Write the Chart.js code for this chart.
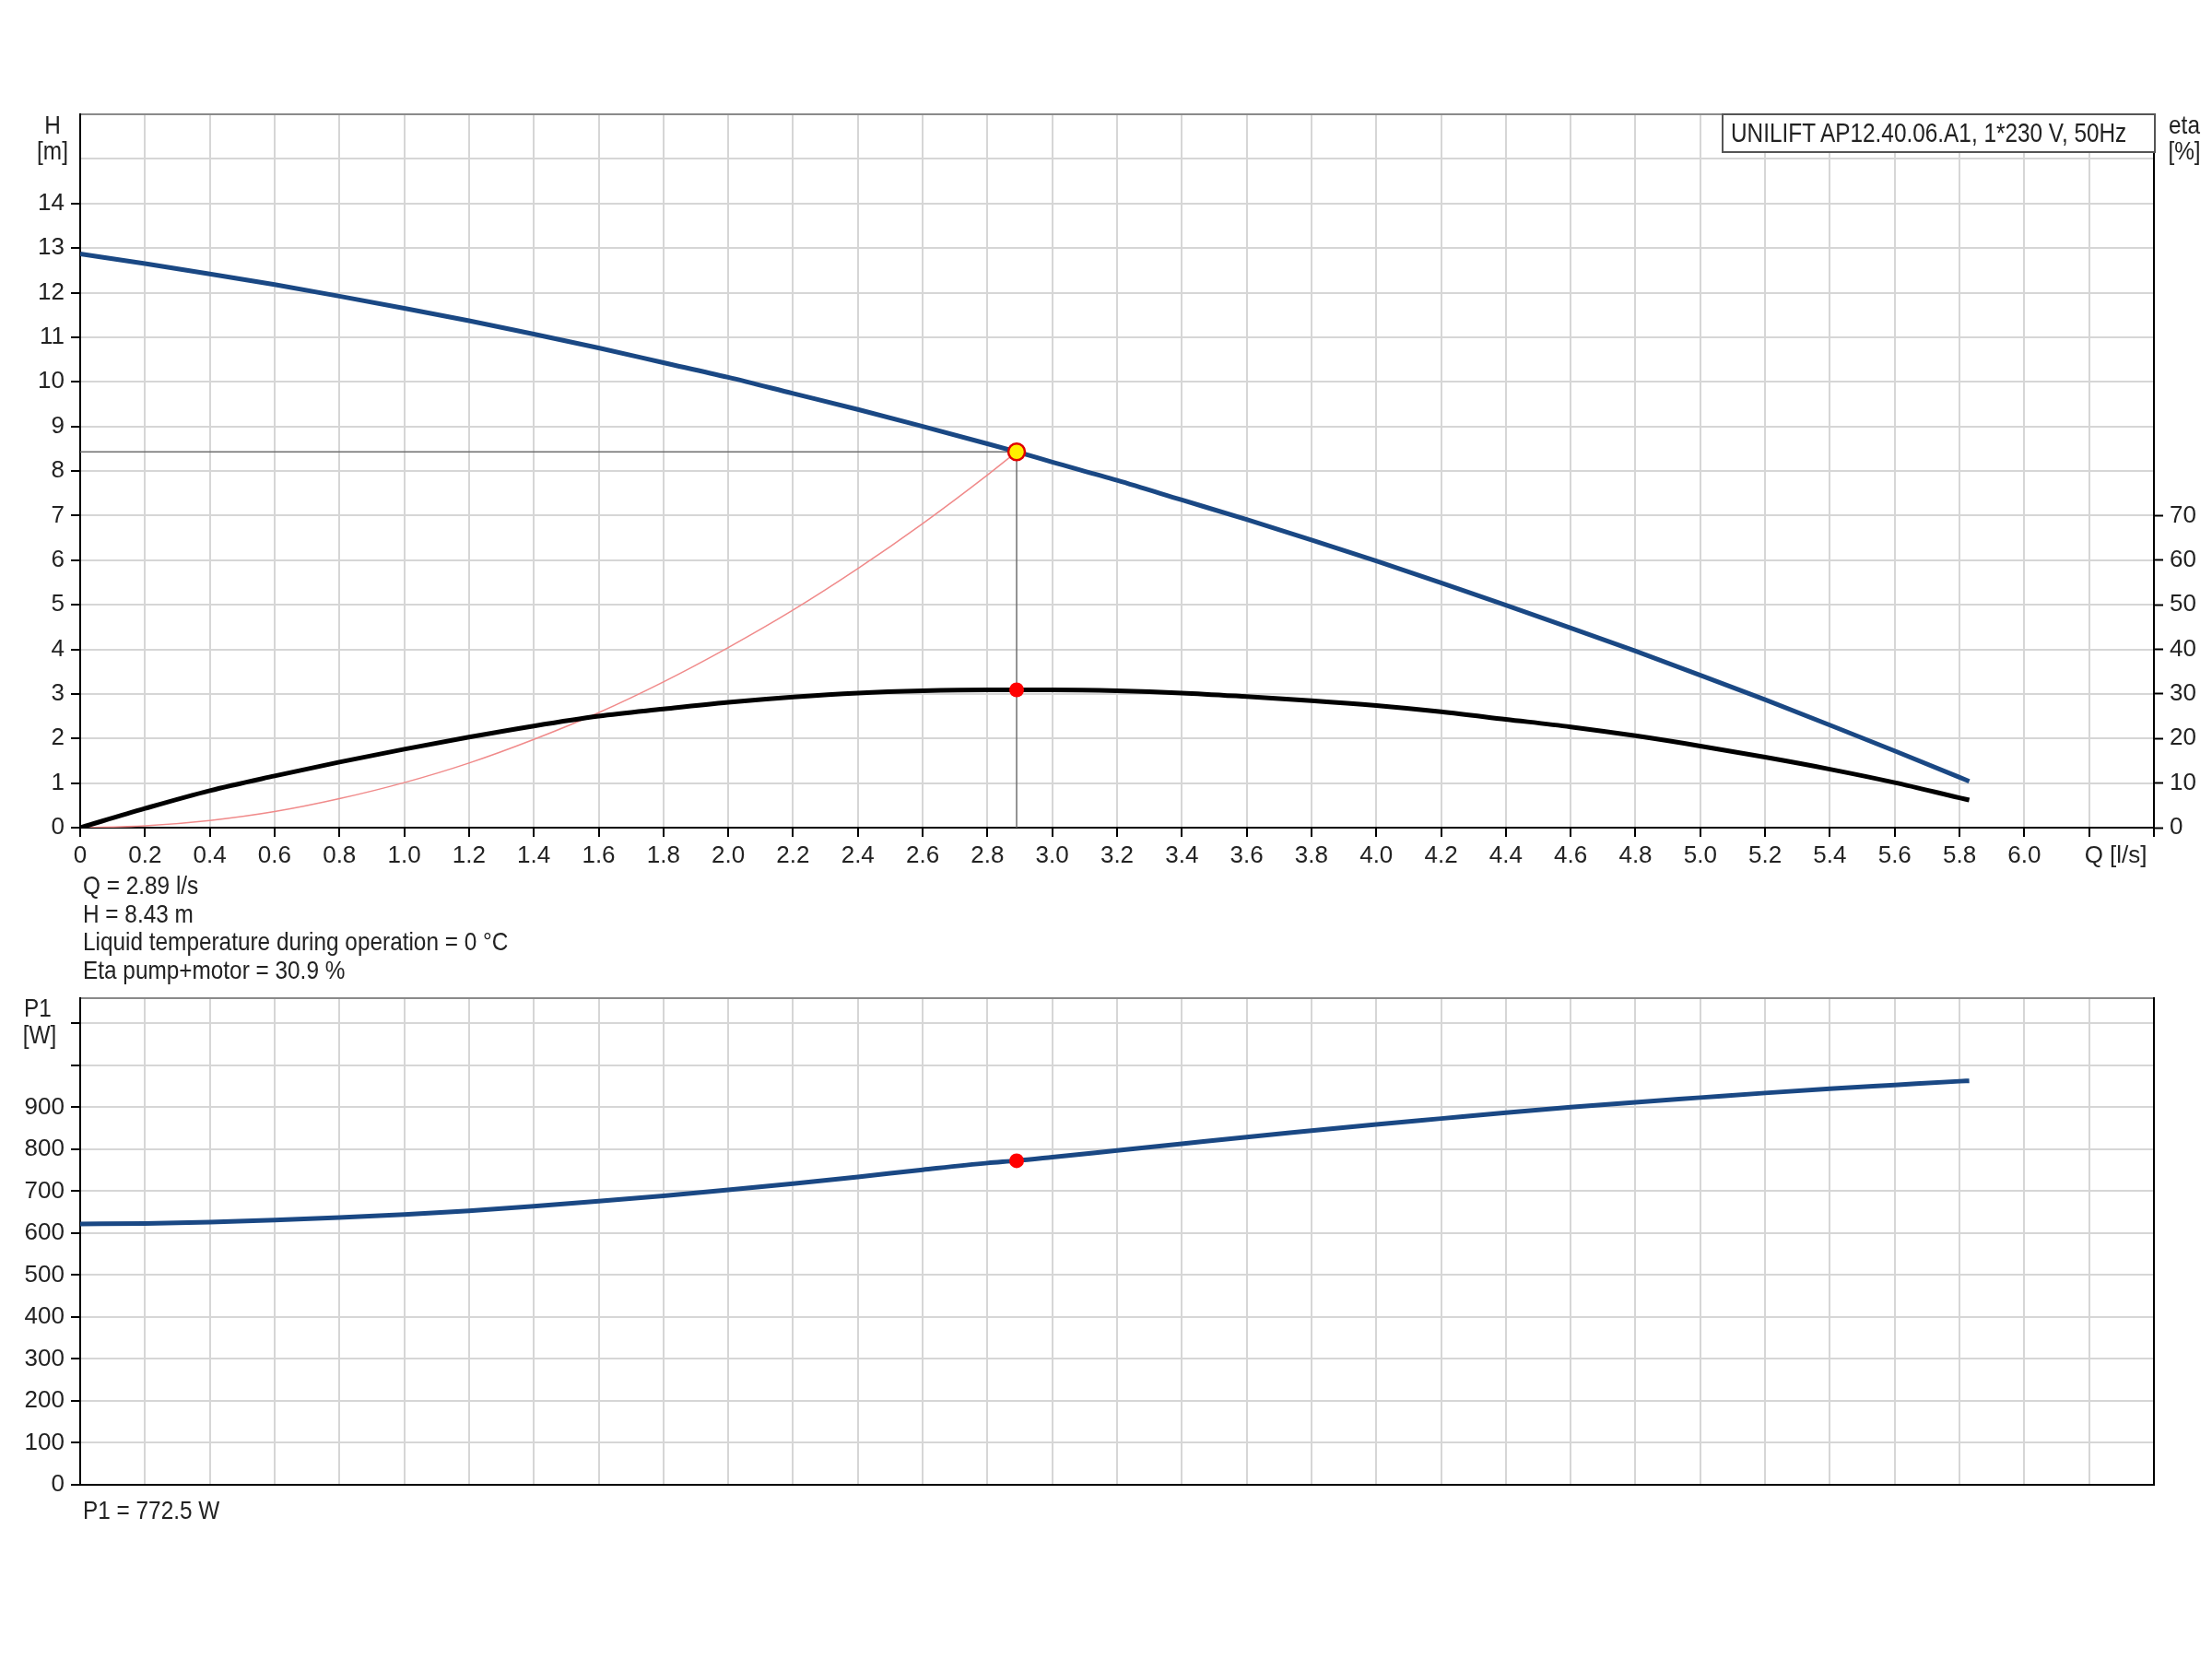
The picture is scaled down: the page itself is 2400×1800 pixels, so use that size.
<!DOCTYPE html>
<html>
<head>
<meta charset="utf-8">
<script src="https://cdn.jsdelivr.net/npm/chart.js@4.4.1/dist/chart.umd.min.js"></script>
<style>
body { margin: 0; background: #fff; }
#page { position: relative; width: 2400px; height: 1800px; background: #fff;
        font-family: 'Liberation Sans', Arial, sans-serif; color: #222; }
.box { position: absolute; }
/* the datasheet uses a narrow face; squeeze the regular one to match */
.lbl { position: absolute; font-size: 28px; line-height: 30px; white-space: nowrap;
       transform: scaleX(0.87); transform-origin: left center; }
.unit { text-align: center; transform-origin: center center; }
#legendBox { position: absolute; left: 1868px; top: 123px; width: 471px; height: 43px; box-sizing: border-box;
             border: 2px solid #555; background: #fff; overflow: hidden; }
#legendBox span { position: absolute; left: 8px; top: 0; font-size: 29px; line-height: 39px; white-space: nowrap;
                  transform: scaleX(0.84); transform-origin: left center; }
</style>
</head>
<body>
<div id="page">
  <div class="box" style="left:0;top:0;width:2400px;height:960px;"><canvas id="qhChart" width="2400" height="960"></canvas></div>
  <div class="box" style="left:0;top:1000px;width:2400px;height:660px;"><canvas id="p1Chart" width="2400" height="660"></canvas></div>

  <div class="lbl unit" style="left:37px;top:121px;width:40px;">H</div>
  <div class="lbl unit" style="left:37px;top:149px;width:40px;">[m]</div>
  <div class="lbl unit" style="left:2347px;top:121px;width:46px;">eta</div>
  <div class="lbl unit" style="left:2347px;top:149px;width:46px;">[%]</div>
  <div id="legendBox"><span>UNILIFT AP12.40.06.A1, 1*230 V, 50Hz</span></div>

  <div class="lbl" style="left:90px;top:946px;">Q = 2.89 l/s</div>
  <div class="lbl" style="left:90px;top:977px;">H = 8.43 m</div>
  <div class="lbl" style="left:90px;top:1007px;">Liquid temperature during operation = 0 °C</div>
  <div class="lbl" style="left:90px;top:1038px;">Eta pump+motor = 30.9 %</div>

  <div class="lbl unit" style="left:21px;top:1079px;width:40px;">P1</div>
  <div class="lbl unit" style="left:21px;top:1108px;width:44px;">[W]</div>
  <div class="lbl" style="left:90px;top:1624px;">P1 = 772.5 W</div>
</div>

<script>
// pump curve samples
var flowQ   = [0, 0.2, 0.4, 0.6, 0.8, 1.0, 1.2, 1.4, 1.6, 1.8, 2.0, 2.2, 2.4, 2.6, 2.8, 2.89,
               3.0, 3.2, 3.4, 3.6, 3.8, 4.0, 4.2, 4.4, 4.6, 4.8, 5.0, 5.2, 5.4, 5.6, 5.8, 5.83];
var headH   = [12.87, 12.65, 12.42, 12.18, 11.92, 11.65, 11.37, 11.07, 10.76, 10.43, 10.10, 9.74, 9.38, 9.00, 8.61, 8.43,
               8.20, 7.79, 7.35, 6.91, 6.45, 5.98, 5.49, 4.99, 4.48, 3.96, 3.42, 2.87, 2.30, 1.72, 1.13, 1.04];
var etaPct  = [0, 4.3, 8.3, 11.6, 14.7, 17.6, 20.3, 22.8, 25.0, 26.6, 28.1, 29.3, 30.2, 30.7, 30.9, 30.9,
               30.9, 30.7, 30.2, 29.4, 28.5, 27.4, 26.0, 24.3, 22.6, 20.6, 18.3, 15.8, 13.1, 10.1, 6.7, 6.2];
var powerP1 = [622, 623, 626, 631, 637, 644, 653, 664, 676, 689, 703, 718, 734, 751, 767, 772.5,
               781, 797, 813, 829, 844, 859, 873, 887, 900, 912, 923, 934, 944, 953, 962, 963];

// system curve up to the duty point
var systemQ = [0, 0.2, 0.4, 0.6, 0.8, 1.0, 1.2, 1.4, 1.6, 1.8, 2.0, 2.2, 2.4, 2.6, 2.8, 2.89];
var systemH = [0, 0.04, 0.16, 0.36, 0.65, 1.01, 1.45, 1.98, 2.58, 3.27, 4.04, 4.88, 5.81, 6.82, 7.91, 8.43];

var dutyQ = 2.89, dutyH = 8.43, dutyEta = 30.9, dutyP1 = 772.5;

var blue = '#1a4884';
var gridGrey = '#d6d6d6';

function pts(xs, ys) {
    return xs.map(function (x, i) { return { x: x, y: ys[i] }; });
}

function qLabel(value) {
    if (Math.abs(value) < 1e-6) return '0';
    if (Math.abs(value - 6.2) < 1e-6) return '        Q [l/s]';
    if (value > 6.3) return '';
    return value.toFixed(1);
}

Chart.defaults.font.family = "'Liberation Sans', Arial, sans-serif";
Chart.defaults.font.size = 26;
Chart.defaults.color = '#222';

var commonOpts = {
    responsive: false,
    devicePixelRatio: 1,
    animation: false,
    plugins: { legend: { display: false }, tooltip: { enabled: false } },
    elements: { point: { radius: 0 } }
};

// ---- Q-H / eta chart ----
new Chart(document.getElementById('qhChart'), {
    type: 'line',
    data: {
        datasets: [
            {   // duty point markers
                data: [{ x: dutyQ, y: dutyH }],
                xAxisID: 'x', yAxisID: 'y',
                showLine: false,
                pointRadius: 9, pointBackgroundColor: '#ffee00', pointBorderColor: '#e00000', pointBorderWidth: 2.5,
                order: 0
            },
            {
                data: [{ x: dutyQ, y: dutyEta }],
                xAxisID: 'x', yAxisID: 'yEta',
                showLine: false,
                pointRadius: 8, pointBackgroundColor: '#ff0000', pointBorderColor: '#ff0000', pointBorderWidth: 0,
                order: 0
            },
            {   // Q-H curve
                data: pts(flowQ, headH),
                xAxisID: 'x', yAxisID: 'y',
                borderColor: blue, borderWidth: 5,
                cubicInterpolationMode: 'monotone',
                order: 1
            },
            {   // efficiency
                data: pts(flowQ, etaPct),
                xAxisID: 'x', yAxisID: 'yEta',
                borderColor: '#000', borderWidth: 5,
                cubicInterpolationMode: 'monotone',
                order: 2
            },
            {   // duty point guide lines
                data: [{ x: 0, y: dutyH }, { x: dutyQ, y: dutyH }, { x: dutyQ, y: 0 }],
                xAxisID: 'x', yAxisID: 'y',
                borderColor: '#707070', borderWidth: 1.5, tension: 0,
                order: 3
            },
            {   // system curve
                data: pts(systemQ, systemH),
                xAxisID: 'x', yAxisID: 'y',
                borderColor: '#f08a8a', borderWidth: 1.5,
                cubicInterpolationMode: 'monotone',
                order: 4
            }
        ]
    },
    options: Object.assign({}, commonOpts, {
        layout: { padding: { top: 124, left: 0, right: 0, bottom: 0 } },
        scales: {
            x: {
                type: 'linear', min: 0, max: 6.4,
                afterFit: function (s) { s.height = 62; },
                ticks: { stepSize: 0.2, autoSkip: false, maxRotation: 0, padding: 5, callback: qLabel },
                grid: { color: gridGrey, lineWidth: 2, tickColor: '#000', tickLength: 10, tickWidth: 2 },
                border: { color: '#000', width: 2 }
            },
            xTop: {
                type: 'linear', position: 'top', min: 0, max: 6.4,
                afterFit: function (s) { s.height = 0; },
                ticks: { display: false },
                grid: { display: false },
                border: { color: '#8a8a8a', width: 2 }
            },
            y: {
                type: 'linear', position: 'left', min: 0, max: 16,
                afterFit: function (s) { s.width = 87; },
                ticks: {
                    stepSize: 1, padding: 7, autoSkip: false,
                    callback: function (v) { return v <= 14 ? String(v) : ''; }
                },
                grid: {
                    color: gridGrey, lineWidth: 2, tickLength: 10, tickWidth: 2,
                    tickColor: function (c) { return c.tick && c.tick.value <= 14 ? '#000' : 'rgba(0,0,0,0)'; }
                },
                border: { color: '#000', width: 2 }
            },
            yEta: {
                type: 'linear', position: 'right', min: 0, max: 160,
                afterFit: function (s) { s.width = 63; },
                ticks: {
                    stepSize: 10, padding: 7, autoSkip: false,
                    callback: function (v) { return v <= 70 ? String(v) : ''; }
                },
                grid: {
                    drawOnChartArea: false, tickLength: 10, tickWidth: 2,
                    tickColor: function (c) { return c.tick && c.tick.value <= 70 ? '#000' : 'rgba(0,0,0,0)'; }
                },
                border: { color: '#000', width: 2 }
            }
        }
    })
});

// ---- P1 chart ----
new Chart(document.getElementById('p1Chart'), {
    type: 'line',
    data: {
        datasets: [
            {
                data: [{ x: dutyQ, y: dutyP1 }],
                xAxisID: 'x', yAxisID: 'y',
                showLine: false,
                pointRadius: 8, pointBackgroundColor: '#ff0000', pointBorderColor: '#ff0000', pointBorderWidth: 0,
                order: 0
            },
            {
                data: pts(flowQ, powerP1),
                xAxisID: 'x', yAxisID: 'y',
                borderColor: blue, borderWidth: 5,
                cubicInterpolationMode: 'monotone',
                order: 1
            }
        ]
    },
    options: Object.assign({}, commonOpts, {
        layout: { padding: { top: 83, left: 0, right: 0, bottom: 0 } },
        scales: {
            x: {
                type: 'linear', min: 0, max: 6.4,
                afterFit: function (s) { s.height = 49; },
                ticks: { stepSize: 0.2, autoSkip: false, display: false },
                grid: { color: gridGrey, lineWidth: 2, drawTicks: false },
                border: { color: '#000', width: 2 }
            },
            xTop: {
                type: 'linear', position: 'top', min: 0, max: 6.4,
                afterFit: function (s) { s.height = 0; },
                ticks: { display: false },
                grid: { display: false },
                border: { color: '#8a8a8a', width: 2 }
            },
            y: {
                type: 'linear', position: 'left', min: 0, max: 1160,
                afterFit: function (s) { s.width = 87; },
                ticks: {
                    stepSize: 100, padding: 7, autoSkip: false, includeBounds: false,
                    callback: function (v) { return v <= 900 ? String(v) : ''; }
                },
                grid: {
                    color: gridGrey, lineWidth: 2, tickLength: 10, tickWidth: 2,
                    tickColor: function (c) { return c.tick && c.tick.value <= 1100 ? '#000' : 'rgba(0,0,0,0)'; }
                },
                border: { color: '#000', width: 2 }
            },
            yRight: {
                type: 'linear', position: 'right', min: 0, max: 1160,
                afterFit: function (s) { s.width = 63; },
                ticks: { display: false },
                grid: { drawOnChartArea: false, drawTicks: false },
                border: { color: '#000', width: 2 }
            }
        }
    })
});
</script>
</body>
</html>
